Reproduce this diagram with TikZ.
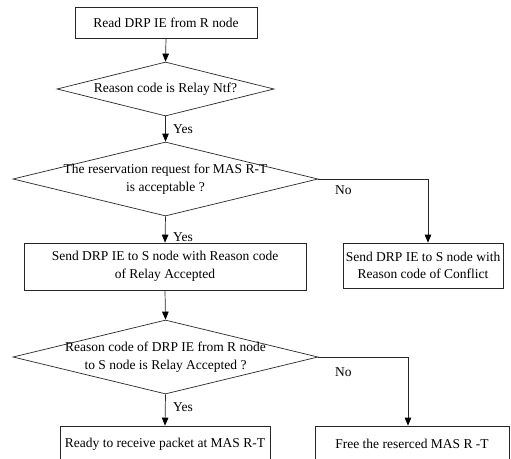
\documentclass[tikz,border=0pt]{standalone}
\usepackage{fontspec}
\setmainfont{Liberation Serif}
\usetikzlibrary{shapes.geometric,arrows.meta}

\tikzset{
  flow/.style={draw=black!85, line width=0.7pt},
  procbox/.style={flow, rectangle, inner sep=0pt, align=center,
    font=\fontsize{13.5}{17.5}\selectfont},
  decision/.style={flow, diamond, inner sep=0pt},
  dtext/.style={inner sep=0pt, align=center, font=\fontsize{13.5}{17.5}\selectfont},
  arr/.style={flow, -{Triangle[length=8pt,width=6.5pt,color=black,fill=black]}},
  answer/.style={inner sep=0pt, anchor=west, font=\fontsize{13.5}{15}\selectfont},
}

\begin{document}
\begin{tikzpicture}[x=1pt,y=-1pt]
\useasboundingbox (0,0) rectangle (511,458);
\clip (0,0) rectangle (511,458);

% process boxes
\node[procbox, minimum width=182pt, minimum height=31pt] (read) at (166,22.5)
  {Read DRP IE from R node};
\node[procbox, minimum width=282pt, minimum height=47pt] (accept) at (165,266.5)
  {Send DRP IE to S node with Reason code\\of Relay Accepted};
\node[procbox, minimum width=160pt, minimum height=45pt] (conflict) at (423,265.5)
  {Send DRP IE to S node with\\Reason code of Conflict};
\node[procbox, minimum width=210pt, minimum height=36pt] (ready) at (165,444)
  {Ready to receive packet at MAS R-T};
\node[procbox, minimum width=194pt, minimum height=36pt] (free) at (412,444)
  {Free the reserced MAS R -T};

% decisions
\node[decision, minimum width=217pt, minimum height=54pt] (d1) at (165.5,89) {};
\node[dtext] (d1t) at (d1) {Reason code is Relay Ntf?};
\node[decision, minimum width=305pt, minimum height=74pt] (d2) at (165.5,179) {};
\node[dtext] (d2t) at (d2) {The reservation request for MAS R-T\\is acceptable ?};
\node[decision, minimum width=305pt, minimum height=74pt] (d3) at (165.5,357) {};
\node[dtext] (d3t) at (d3) {Reason code of DRP IE from R node\\to S node is Relay Accepted ?};

% connectors
\draw[arr] (read.south) -- (d1.north);
\draw[arr] (d1.south) -- (d2.north);
\draw[arr] (d2.south) -- (accept.north);
\draw[arr] (d2.east) -| ([xshift=5pt]conflict.north);
\draw[arr] (accept.south) -- (d3.north);
\draw[arr] (d3.south) -- (ready.north);
\draw[arr] (d3.east) -| ([xshift=-4pt]free.north);

% branch labels
\node[answer] (y1) at (173,129) {Yes};
\node[answer] (y2) at (173,237) {Yes};
\node[answer] (n1) at (335,190) {No};
\node[answer] (y3) at (173,407) {Yes};
\node[answer] (n2) at (335,372) {No};
\end{tikzpicture}
\end{document}
